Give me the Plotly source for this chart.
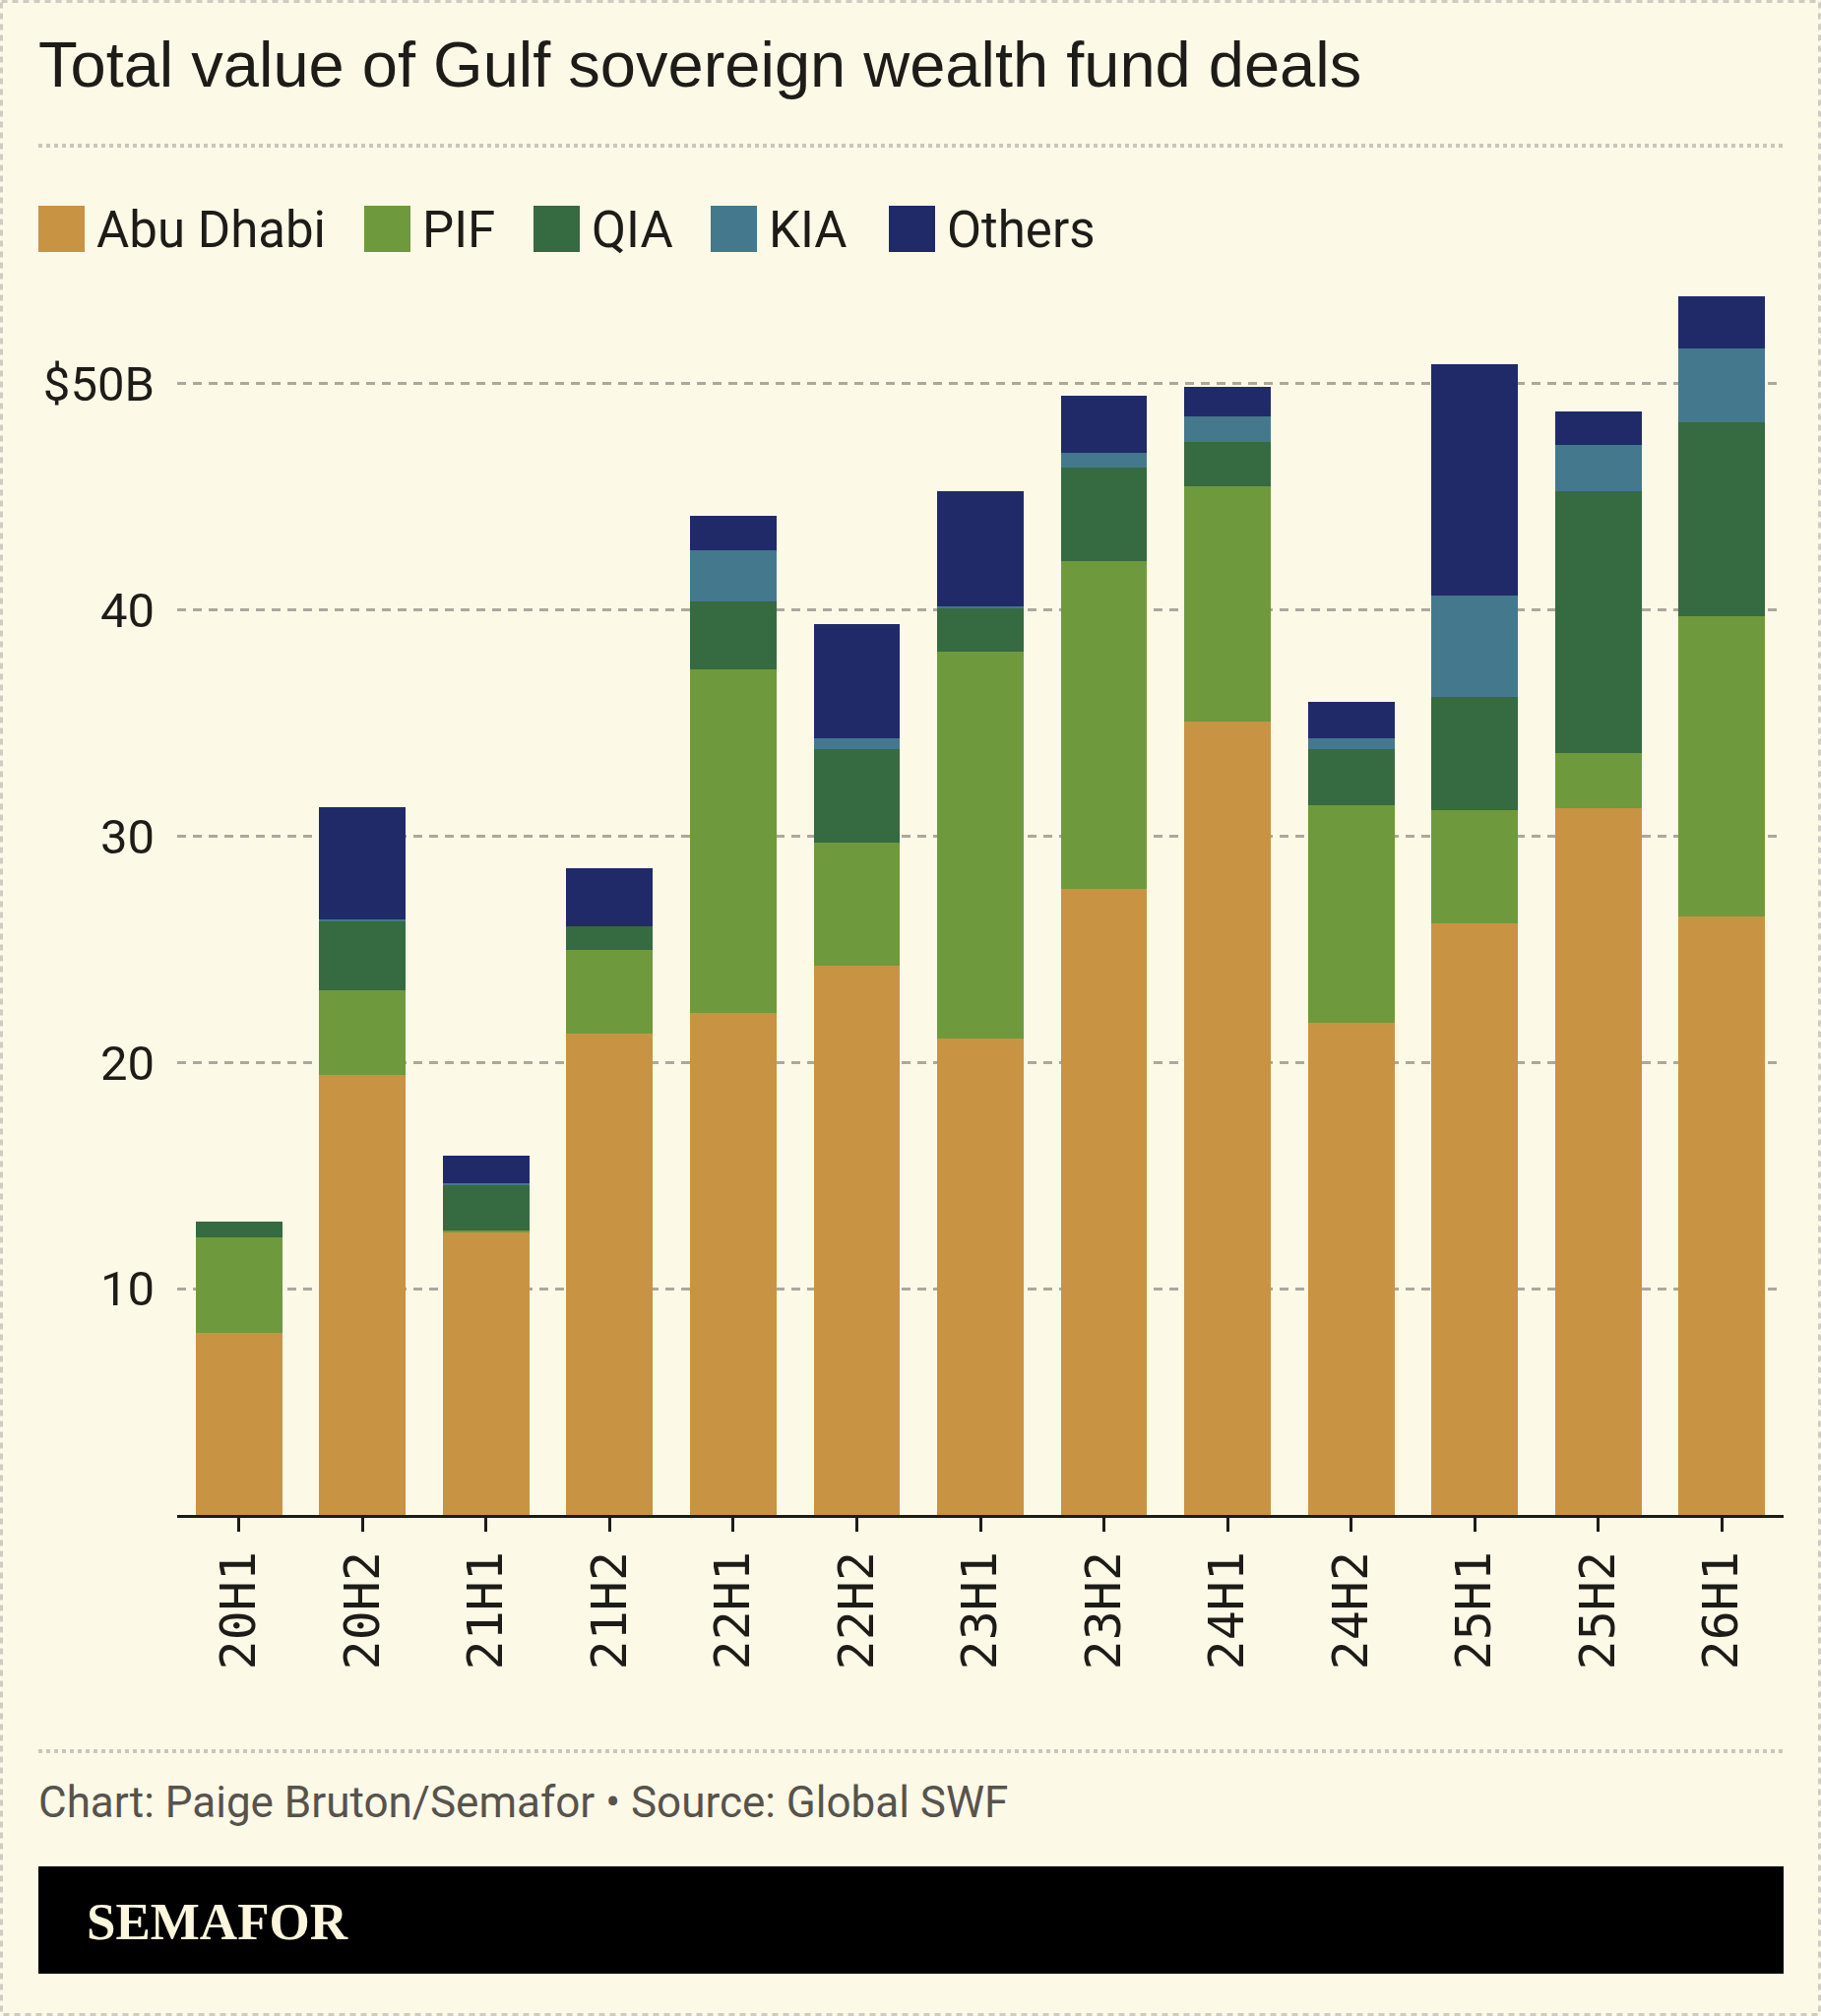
import plotly.graph_objects as go

# ---------------- data ----------------
periods = ["20H1", "20H2", "21H1", "21H2", "22H1", "22H2", "23H1",
           "23H2", "24H1", "24H2", "25H1", "25H2", "26H1"]
abu_dhabi = [8.05, 19.47, 12.47, 21.27, 22.17, 24.29, 21.07, 27.67, 35.06, 21.75, 26.17, 31.24, 26.47]
pif =       [4.23, 3.74, 0.10, 3.70, 15.21, 5.45, 17.09, 14.51, 10.39, 9.64, 4.97, 2.42, 13.26]
qia =       [0.68, 3.02, 2.04, 1.03, 2.98, 4.12, 1.90, 4.10, 2.00, 2.47, 5.02, 11.59, 8.55]
kia =       [0.00, 0.10, 0.05, 0.00, 2.30, 0.48, 0.12, 0.67, 1.10, 0.48, 4.50, 2.03, 3.29]
others =    [0.00, 4.95, 1.22, 2.60, 1.52, 5.04, 5.07, 2.53, 1.33, 1.62, 10.19, 1.50, 2.30]

series_names = ["Abu Dhabi", "PIF", "QIA", "KIA", "Others"]
series_values = [abu_dhabi, pif, qia, kia, others]
series_colors = ["#C89343", "#6F993D", "#366A40", "#44788C", "#212A68"]

y_tickvals = [10, 20, 30, 40, 50]
y_ticktext = ["10", "20", "30", "40", "$50B"]

title_text = "Total value of Gulf sovereign wealth fund deals"
footer_text = "Chart: Paige Bruton/Semafor • Source: Global SWF"
brand_text = "SEMAFOR"

# ---------------- layout geometry ----------------
W, H = 1850, 2048
ML, MR, MT, MB = 180, 38, 275, 509
PW = W - ML - MR
PH = H - MT - MB
BG = "#FDF9E7"
INK = "#1E1C18"

def px(x):
    return (x - ML) / PW

def py(y):
    return (H - MB - y) / PH

fig = go.Figure()
for name, vals, col in zip(series_names, series_values, series_colors):
    fig.add_trace(go.Bar(
        x=periods, y=vals, name=name,
        marker=dict(color=col, line=dict(width=0)),
        showlegend=False,
    ))

shapes = []
annotations = []

# outer dashed frame
shapes.append(dict(type="rect", xref="paper", yref="paper",
                   x0=px(1.5), x1=px(W - 1.5), y0=py(1.5), y1=py(H - 1.5),
                   line=dict(color="#CFCCC2", width=3, dash="6px,5px"), layer="below"))
# separators
for yy in (148, 1779):
    shapes.append(dict(type="line", xref="paper", yref="paper",
                       x0=px(39), x1=px(1812), y0=py(yy), y1=py(yy),
                       line=dict(color="#C9C6BC", width=4, dash="4px,4px")))
# black brand box
shapes.append(dict(type="rect", xref="paper", yref="paper",
                   x0=px(39), x1=px(1812), y0=py(1896), y1=py(2005),
                   fillcolor="#000000", line=dict(width=0)))

# legend (custom squares + labels)
legend_x_px = [39, 370, 542, 722, 903]
for name, col, lx in zip(series_names, series_colors, legend_x_px):
    shapes.append(dict(type="rect", xref="paper", yref="paper",
                       x0=px(lx), x1=px(lx + 47), y0=py(209), y1=py(256),
                       fillcolor=col, line=dict(width=0)))
    annotations.append(dict(xref="paper", yref="paper", x=px(lx + 57), y=py(234),
                            xanchor="left", yanchor="middle", showarrow=False,
                            text=name, font=dict(family="Roboto, sans-serif", size=51, color=INK)))

# title
annotations.append(dict(xref="paper", yref="paper", x=px(37), y=py(66),
                        xanchor="left", yanchor="middle", showarrow=False,
                        text=title_text,
                        font=dict(family="Liberation Sans, Arial, sans-serif", size=65, color=INK)))
# footer
annotations.append(dict(xref="paper", yref="paper", x=px(37), y=py(1831),
                        xanchor="left", yanchor="middle", showarrow=False,
                        text=footer_text,
                        font=dict(family="Roboto, sans-serif", size=44, color="#57534C")))
# brand
annotations.append(dict(xref="paper", yref="paper", x=px(86), y=py(1952),
                        xanchor="left", yanchor="middle", showarrow=False,
                        text="<b>" + brand_text + "</b>",
                        font=dict(family="Liberation Serif, serif", size=53, color="#FBF6DC")))

fig.update_layout(
    width=W, height=H,
    margin=dict(l=ML, r=MR, t=MT, b=MB, pad=0),
    paper_bgcolor=BG, plot_bgcolor=BG,
    barmode="stack", bargap=0.3,
    showlegend=False,
    shapes=shapes, annotations=annotations,
    xaxis=dict(
        type="category", showgrid=False, zeroline=False,
        showline=True, linecolor=INK, linewidth=3,
        ticks="outside", ticklen=14, tickwidth=3, tickcolor=INK,
        tickangle=-90, ticklabelstandoff=0,
        tickfont=dict(family="DejaVu Sans Mono, monospace", size=50, color=INK),
    ),
    yaxis=dict(
        range=[0, 55], tickvals=y_tickvals, ticktext=y_ticktext,
        showgrid=True, gridcolor="#ABA89E", gridwidth=2.5, griddash="9px,7px",
        zeroline=False, showline=False, ticks="",
        ticklabelstandoff=22,
        tickfont=dict(family="Roboto, sans-serif", size=49, color=INK),
    ),
)

fig.write_html("out.html")
